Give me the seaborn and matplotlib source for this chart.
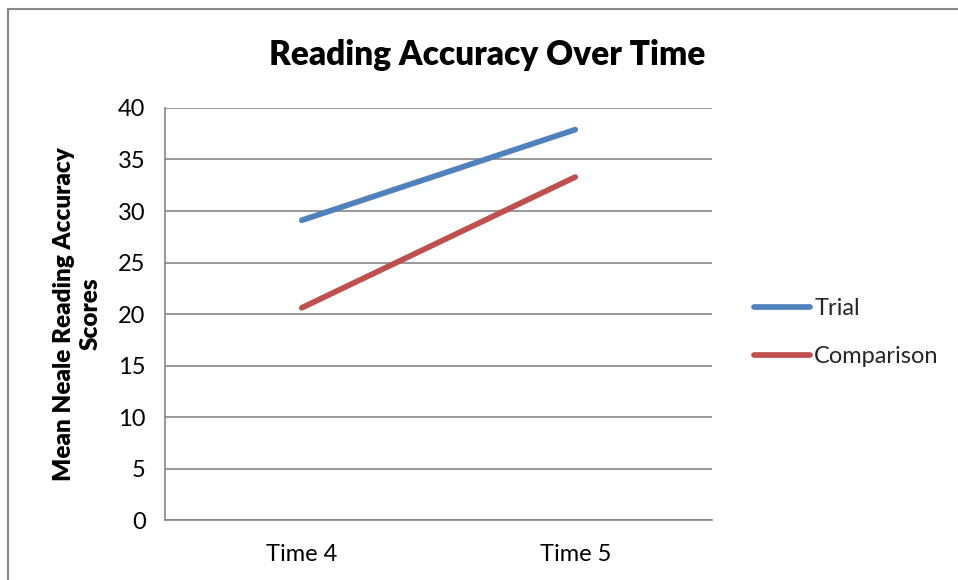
import pandas as pd
import seaborn as sns
import matplotlib.pyplot as plt
from matplotlib.patches import Rectangle


TIMES = ['Time 4', 'Time 5']
TRIAL = [29.1, 37.9]
COMPARISON = [20.6, 33.3]
GROUPS = ['Trial', 'Comparison']
YTICKS = [0, 5, 10, 15, 20, 25, 30, 35, 40]

GRID = '#868686'


def main():
    df = pd.DataFrame({
        'time': TIMES * 2,
        'score': TRIAL + COMPARISON,
        'group': [GROUPS[0]] * len(TIMES) + [GROUPS[1]] * len(TIMES),
    })

    sns.set_style('white')
    plt.rcParams['font.family'] = ['Lato', 'DejaVu Sans']

    fig = plt.figure(figsize=(9.58, 5.8), dpi=100)
    ax = fig.add_axes([0.1722, 0.1034, 0.5710, 0.7104])

    sns.lineplot(
        data=df, x='time', y='score', hue='group',
        palette={'Trial': '#4F81BD', 'Comparison': '#C0504D'},
        linewidth=4.1, solid_capstyle='round', ax=ax, sort=False,
    )

    # Axis ranges and grid
    ax.set_ylim(0, 40)
    ax.set_xlim(-0.5, len(TIMES) - 0.5)
    ax.set_yticks(YTICKS)
    ax.yaxis.grid(True, color=GRID, linewidth=1.2)
    ax.set_axisbelow(True)

    for side in ['top', 'right']:
        ax.spines[side].set_visible(False)
    for side in ['left', 'bottom']:
        ax.spines[side].set_color(GRID)
        ax.spines[side].set_linewidth(1.2)

    # Category ticks sit between the groups
    ax.set_xticks(range(len(TIMES)))
    ax.set_xticklabels(TIMES)
    ax.set_xticks([i - 0.5 for i in range(len(TIMES) + 1)], minor=True)
    ax.tick_params(axis='x', which='major', length=0, pad=17, labelsize=17,
                   labelcolor='black')
    ax.tick_params(axis='x', which='minor', length=6, width=1.2, color=GRID, direction='out')
    ax.tick_params(axis='y', length=9, width=1.2, color=GRID, direction='out',
                   pad=5, labelsize=17, labelcolor='black')

    ax.set_xlabel('')
    ax.set_ylabel('Mean Neale Reading Accuracy\nScores', fontsize=17.5,
                  fontweight='heavy', labelpad=12, linespacing=1.25, color='black')

    # Title sits a bit right of the plot centre, as in the original
    fig.text(487 / 958, 1 - 55 / 580, 'Reading Accuracy Over Time', fontsize=24,
             fontweight='heavy', color='black', ha='center', va='center')

    # Legend to the right of the plot
    handles, labels = ax.get_legend_handles_labels()
    ax.legend(handles, labels, loc='center left', bbox_to_anchor=(1.038, 0.455),
              frameon=False, fontsize=17, handlelength=2.35, handletextpad=0.2,
              labelspacing=1.15)

    # Outer chart border
    fig.patches.append(Rectangle((8 / 958, -0.1), 1.2, 1 - 9.5 / 580 + 0.1,
                                 transform=fig.transFigure, fill=False,
                                 edgecolor='#888888', linewidth=1.5))

    fig.savefig('out.png', dpi=100)
    plt.close(fig)


if __name__ == '__main__':
    main()
